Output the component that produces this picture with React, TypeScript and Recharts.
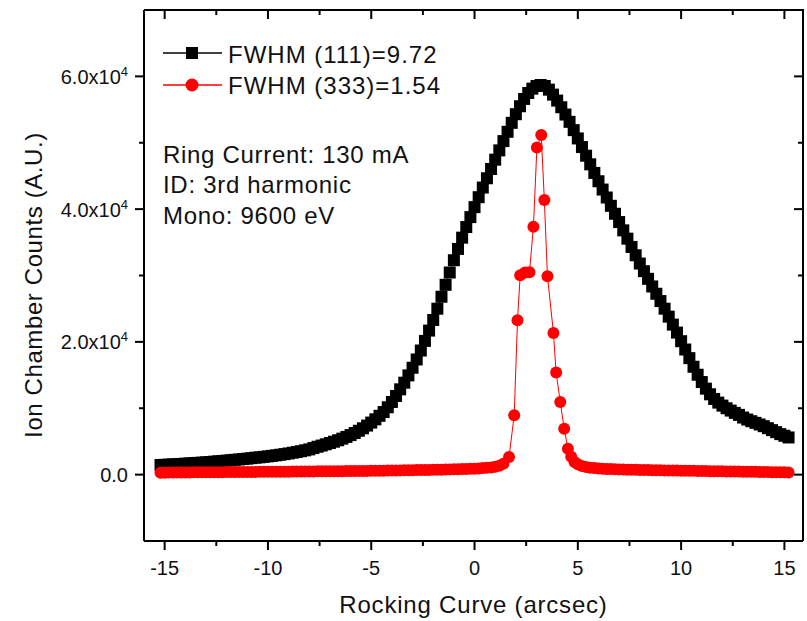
import { ComposedChart, Line, XAxis, YAxis, Legend } from "recharts";

// rocking curve, (111) reflection - black squares
const blackX = [
  -15.2, -15.0, -14.8, -14.6, -14.4, -14.2, -14.0, -13.8, -13.6, -13.4, -13.2, -13.0,
  -12.8, -12.6, -12.4, -12.2, -12.0, -11.8, -11.6, -11.4, -11.2, -11.0, -10.8, -10.6,
  -10.4, -10.2, -10.0, -9.8, -9.6, -9.4, -9.2, -9.0, -8.8, -8.6, -8.4, -8.2, -8.0,
  -7.8, -7.6, -7.4, -7.2, -7.0, -6.8, -6.6, -6.4, -6.2, -6.0, -5.8, -5.6, -5.4, -5.2,
  -5.0, -4.8, -4.6, -4.4, -4.2, -4.0, -3.8, -3.6, -3.4, -3.2, -3.0, -2.8, -2.6, -2.4,
  -2.2, -2.0, -1.8, -1.6, -1.4, -1.2, -1.0, -0.8, -0.6, -0.4, -0.2, 0.0, 0.2, 0.4,
  0.6, 0.8, 1.0, 1.2, 1.4, 1.6, 1.8, 2.0, 2.2, 2.4, 2.6, 2.8, 3.0, 3.2, 3.4, 3.6, 3.8,
  4.0, 4.2, 4.4, 4.6, 4.8, 5.0, 5.2, 5.4, 5.6, 5.8, 6.0, 6.2, 6.4, 6.6, 6.8, 7.0, 7.2,
  7.4, 7.6, 7.8, 8.0, 8.2, 8.4, 8.6, 8.8, 9.0, 9.2, 9.4, 9.6, 9.8, 10.0, 10.2, 10.4,
  10.6, 10.8, 11.0, 11.2, 11.4, 11.6, 11.8, 12.0, 12.2, 12.4, 12.6, 12.8, 13.0, 13.2,
  13.4, 13.6, 13.8, 14.0, 14.2, 14.4, 14.6, 14.8, 15.0, 15.2,
];
const blackY = [
  1450, 1480, 1510, 1540, 1570, 1610, 1650, 1690, 1730, 1770, 1810, 1850,
  1900, 1960, 2010, 2060, 2110, 2170, 2230, 2290, 2350, 2410, 2480, 2550,
  2610, 2680, 2750, 2830, 2910, 3000, 3090, 3190, 3300, 3410, 3530, 3660, 3800,
  4000, 4200, 4380, 4570, 4760, 4960, 5180, 5420, 5680, 5960, 6270, 6610, 6980, 7390,
  7840, 8330, 8860, 9430, 10150, 10950, 11850, 12850, 13850, 14950, 16100, 17350, 18700, 20150,
  21700, 23300, 25000, 26800, 28600, 30450, 32300, 34000, 35700, 37300, 38800, 40300, 41800, 43250,
  44650, 46050, 47450, 48850, 50250, 51650, 53000, 54300, 55500, 56600, 57500, 58150, 58550, 58700, 58550, 58000, 57250,
  56350, 55350, 54250, 53150, 51900, 50650, 49350, 48050, 46750, 45450, 44200, 42950, 41750, 40500, 39300, 38050, 36800,
  35550, 34300, 33050, 31800, 30650, 29500, 28350, 27250, 26150, 25000, 23800, 22600, 21400, 20100, 18850, 17550,
  16250, 15050, 13950, 12950, 12100, 11400, 10850, 10400, 10000, 9650, 9300, 9000, 8600, 8300,
  8050, 7800, 7550, 7300, 7000, 6700, 6400, 6100, 5850, 5600,
];

// (333) reflection - red circles
const redX = [
  -15.2, -15.0, -14.8, -14.6, -14.4, -14.2, -14.0, -13.8, -13.6, -13.4, -13.2, -13.0,
  -12.8, -12.6, -12.4, -12.2, -12.0, -11.8, -11.6, -11.4, -11.2, -11.0, -10.8, -10.6,
  -10.4, -10.2, -10.0, -9.8, -9.6, -9.4, -9.2, -9.0, -8.8, -8.6, -8.4, -8.2, -8.0,
  -7.8, -7.6, -7.4, -7.2, -7.0, -6.8, -6.6, -6.4, -6.2, -6.0, -5.8, -5.6, -5.4, -5.2,
  -5.0, -4.8, -4.6, -4.4, -4.2, -4.0, -3.8, -3.6, -3.4, -3.2, -3.0, -2.8, -2.6, -2.4,
  -2.2, -2.0, -1.8, -1.6, -1.4, -1.2, -1.0, -0.8, -0.6, -0.4, -0.2, 0.0, 0.2, 0.4,
  0.6, 0.8, 1.0, 1.2, 1.4,
  1.67, 1.92, 2.08, 2.21, 2.45, 2.66, 2.85, 3.02, 3.23, 3.38, 3.53, 3.82, 3.95, 4.15,
  4.34, 4.52, 4.68, 4.84,
  5.0, 5.2, 5.4, 5.6, 5.8, 6.0, 6.2, 6.4, 6.6, 6.8, 7.0, 7.2, 7.4, 7.6, 7.8, 8.0,
  8.2, 8.4, 8.6, 8.8, 9.0, 9.2, 9.4, 9.6, 9.8, 10.0, 10.2, 10.4, 10.6, 10.8, 11.0,
  11.2, 11.4, 11.6, 11.8, 12.0, 12.2, 12.4, 12.6, 12.8, 13.0, 13.2, 13.4, 13.6, 13.8,
  14.0, 14.2, 14.4, 14.6, 14.8, 15.0, 15.2,
];
const redY = [
  300, 300, 310, 310, 320, 320, 330, 330, 340, 340, 350, 350,
  360, 360, 370, 370, 380, 380, 390, 390, 400, 400, 410, 410,
  420, 420, 430, 430, 440, 440, 450, 450, 460, 460, 470, 470, 480,
  480, 490, 490, 500, 500, 510, 510, 520, 530, 530, 540, 550, 550, 560,
  570, 580, 590, 600, 610, 620, 630, 640, 650, 660, 670, 680, 690, 700,
  710, 720, 740, 750, 770, 790, 800, 820, 840, 860, 880, 900, 940, 980,
  1030, 1090, 1170, 1330, 1650,
  2640, 8930, 23260, 30050, 30450, 30500, 37330, 49300, 51150, 41360, 29900, 21340, 15370, 10940,
  6920, 3900, 2700, 1900,
  1550, 1300, 1150, 1050, 980, 930, 890, 860, 830, 810, 790, 770, 750, 735, 720, 705,
  690, 680, 670, 655, 645, 635, 625, 615, 605, 595, 585, 575, 565, 555, 545,
  535, 525, 515, 505, 495, 485, 475, 465, 455, 445, 435, 425, 415, 405,
  395, 385, 375, 365, 355, 345, 335,
];

const xMajor = [-15, -10, -5, 0, 5, 10, 15];
const xTicks = [-15, -12.5, -10, -7.5, -5, -2.5, 0, 2.5, 5, 7.5, 10, 12.5, 15];
const yMajor = [0, 20000, 40000, 60000];
const yTicks = [0, 10000, 20000, 30000, 40000, 50000, 60000];
const xDomain = [-16, 15.9];
const yDomain = [-10000, 70000];

const seriesNames = ["FWHM (111)=9.72", "FWHM (333)=1.54"];
const notes = ["Ring Current: 130 mA", "ID: 3rd harmonic", "Mono: 9600 eV"];

const blackData = blackX.map((x, i) => ({ x, y: blackY[i] }));
const redData = redX.map((x, i) => ({ x, y: redY[i] }));

// the chart sits at the page origin so it fills the 807x621 window without scrollbars
const W = 807;
const H = 621;
const X_AXIS_H = 80;
const Y_AXIS_W = 144;
const MARGIN = { top: 10, right: 4, bottom: 0, left: 0 };
const PLOT_TOP = MARGIN.top;
const PLOT_RIGHT = W - MARGIN.right;
const FRAME = 2;

const FONT = '"Liberation Sans", Arial, sans-serif';
const INK = "#111";

// bottom ticks point outward; the same positions are mirrored inward on the top frame
const BottomTick = (props: any) => {
  const { x, y, payload } = props;
  const major = xMajor.includes(payload.value);
  const len = major ? 9 : 5;
  return (
    <g>
      <line x1={x} y1={y} x2={x} y2={y + len} stroke="#000" strokeWidth={FRAME} />
      <line x1={x} y1={PLOT_TOP} x2={x} y2={PLOT_TOP + len} stroke="#000" strokeWidth={FRAME} />
      {major && (
        <text x={x} y={y + 34} textAnchor="middle" fontSize={20} fontFamily={FONT} fill={INK}>
          {payload.value}
        </text>
      )}
    </g>
  );
};

const LeftTick = (props: any) => {
  const { x, y, payload } = props;
  const v = payload.value;
  const major = yMajor.includes(v);
  const len = major ? 9 : 5;
  return (
    <g>
      <line x1={x - len} y1={y} x2={x} y2={y} stroke="#000" strokeWidth={FRAME} />
      <line x1={PLOT_RIGHT - len} y1={y} x2={PLOT_RIGHT} y2={y} stroke="#000" strokeWidth={FRAME} />
      {major && (
        <text x={x - 16} y={y + 7.5} textAnchor="end" fontSize={20} fontFamily={FONT} fill={INK}>
          {v === 0 ? (
            "0.0"
          ) : (
            <>
              {(v / 10000).toFixed(1) + "x10"}
              <tspan dy={-8} fontSize={13}>4</tspan>
            </>
          )}
        </text>
      )}
    </g>
  );
};

const SquareDot = (props: any) => {
  const { cx, cy } = props;
  if (cx == null || cy == null) return null;
  return <rect x={cx - 6} y={cy - 6} width={12} height={12} fill="#000" />;
};

const CircleDot = (props: any) => {
  const { cx, cy } = props;
  if (cx == null || cy == null) return null;
  return <circle cx={cx} cy={cy} r={6} fill="#ff0000" />;
};

const LegendBox = () => (
  <svg width={300} height={75} style={{ display: "block", overflow: "visible" }}>
    <line x1={3} y1={23} x2={62} y2={23} stroke="#000" strokeWidth={1.5} />
    <rect x={26} y={17} width={12} height={12} fill="#000" />
    <text x={68} y={33} fontSize={24} letterSpacing={1} fontFamily={FONT} fill={INK}>
      {seriesNames[0]}
    </text>
    <line x1={3} y1={55} x2={62} y2={55} stroke="#ff0000" strokeWidth={1.5} />
    <circle cx={32} cy={55} r={6.5} fill="#ff0000" />
    <text x={68} y={64} fontSize={24} letterSpacing={1} fontFamily={FONT} fill={INK}>
      {seriesNames[1]}
    </text>
  </svg>
);

export default function App() {
  return (
    <div style={{ position: "absolute", left: 0, top: 0, width: W, height: H, overflow: "hidden" }}>
      <ComposedChart width={W} height={H} margin={MARGIN}>
        <XAxis
          type="number"
          dataKey="x"
          domain={xDomain}
          allowDataOverflow
          ticks={xTicks}
          interval={0}
          height={X_AXIS_H}
          tickSize={0}
          tickMargin={0}
          tickLine={false}
          tick={<BottomTick />}
          axisLine={{ stroke: "#000", strokeWidth: FRAME }}
          label={{
            content: (p: any) => (
              <text
                x={p.viewBox.x + p.viewBox.width / 2}
                y={p.viewBox.y + 72}
                textAnchor="middle"
                fontSize={24}
                letterSpacing={0.8}
                fontFamily={FONT}
                fill={INK}
              >
                Rocking Curve (arcsec)
              </text>
            ),
          }}
        />
        <YAxis
          type="number"
          domain={yDomain}
          allowDataOverflow
          ticks={yTicks}
          interval={0}
          width={Y_AXIS_W}
          tickSize={0}
          tickMargin={0}
          tickLine={false}
          tick={<LeftTick />}
          axisLine={{ stroke: "#000", strokeWidth: FRAME }}
          label={{
            content: () => {
              const cx = 42;
              const cy = 285;
              return (
                <text
                  x={cx}
                  y={cy}
                  transform={`rotate(-90 ${cx} ${cy})`}
                  textAnchor="middle"
                  fontSize={24}
                  letterSpacing={0.6}
                  fontFamily={FONT}
                  fill={INK}
                >
                  Ion Chamber Counts (A.U.)
                </text>
              );
            },
          }}
        />
        <Line
          data={blackData}
          dataKey="y"
          stroke="#000"
          strokeWidth={1}
          dot={<SquareDot />}
          activeDot={false}
          isAnimationActive={false}
        />
        <Line
          data={redData}
          dataKey="y"
          stroke="#ff0000"
          strokeWidth={1}
          dot={<CircleDot />}
          activeDot={false}
          isAnimationActive={false}
        />
        <Legend
          layout="horizontal"
          verticalAlign="middle"
          align="center"
          content={() => <LegendBox />}
          wrapperStyle={{ position: "absolute", left: 160, top: 30, width: 300, height: 75 }}
        />
      </ComposedChart>
      {/* top and right edges of the frame */}
      <div
        style={{
          position: "absolute",
          left: Y_AXIS_W,
          top: PLOT_TOP - FRAME / 2,
          width: PLOT_RIGHT - Y_AXIS_W + FRAME / 2,
          height: H - X_AXIS_H - PLOT_TOP + FRAME / 2,
          borderTop: `${FRAME}px solid #000`,
          borderRight: `${FRAME}px solid #000`,
          boxSizing: "border-box",
          pointerEvents: "none",
        }}
      />
      <svg
        width={340}
        height={130}
        style={{ position: "absolute", left: 158, top: 123, pointerEvents: "none" }}
      >
        {notes.map((t, i) => (
          <text
            key={t}
            x={5}
            y={40 + i * 30.3}
            fontSize={24}
            letterSpacing={0.7}
            fontFamily={FONT}
            fill={INK}
          >
            {t}
          </text>
        ))}
      </svg>
    </div>
  );
}
